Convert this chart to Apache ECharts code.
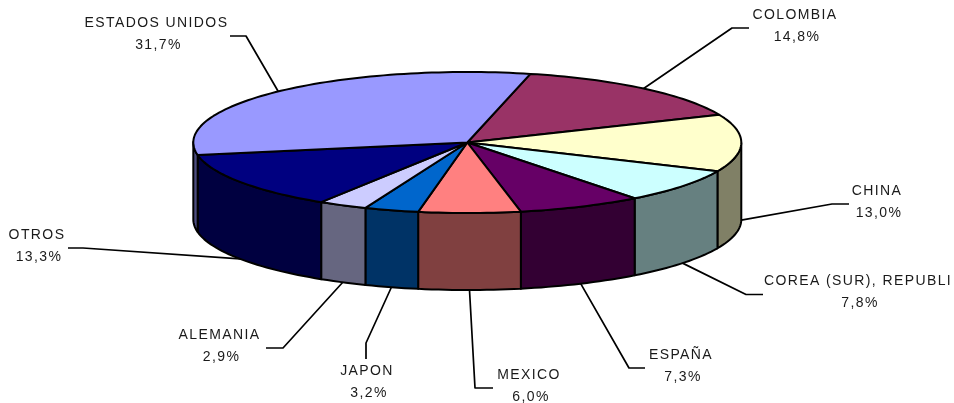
<!DOCTYPE html>
<html>
<head>
<meta charset="utf-8">
<style>html,body{margin:0;padding:0;background:#fff}#chart{width:954px;height:403px}</style>
<script src="https://cdn.jsdelivr.net/npm/echarts@6/dist/echarts.min.js"></script>
</head>
<body>
<div id="chart"></div>
<script>
// Canvas letter spacing used by the reference's tracked labels
const LETTER_SPACING = '1.4px';
const origGetContext = HTMLCanvasElement.prototype.getContext;
HTMLCanvasElement.prototype.getContext = function (type, opts) {
  const ctx = origGetContext.call(this, type, opts);
  if (type === '2d' && ctx && 'letterSpacing' in ctx) ctx.letterSpacing = LETTER_SPACING;
  return ctx;
};

// ---- data ----
const categories = ['COLOMBIA', 'CHINA', 'COREA (SUR), REPUBLI', 'ESPAÑA', 'MEXICO', 'JAPON', 'ALEMANIA', 'OTROS', 'ESTADOS UNIDOS'];
const shares = [14.8, 13.0, 7.8, 7.3, 6.0, 3.2, 2.9, 13.3, 31.7];

// ---- styles ----
const topColors = ['#993366', '#FFFFCC', '#CCFFFF', '#660066', '#FF8080', '#0066CC', '#CCCCFF', '#000080', '#9999FF'];
const wallColors = ['#4D1A33', '#808066', '#668080', '#330033', '#804040', '#003366', '#666680', '#000040', '#4D4D80'];

// ---- layout ----
const CX = 467.3, CY = 142.5, RX = 274, RY = 70.5, DEPTH = 77, START_DEG = 13.3;
const PERSPECTIVE_DEG = 1.0;   // near side of the tilted disc drifts slightly clockwise
const PCT_SHIFT_X = 2;
// label centre [x, first line y], then leader polyline from tail to elbow
const labelCentres = [[795, 15], [877, 191], [858, 281], [681, 355], [529, 375], [367, 371], [219.5, 335], [37, 235], [156.5, 23]];
const leaderTails = [[[749, 28], [732, 28]], [[849, 204], [832, 204]], [[763, 294.5], [746, 294.5]], [[645, 368], [629, 368]], [[493, 388], [475, 388]], [[366, 359], [366, 343]], [[266, 348], [283, 348]], [[68, 248], [83, 248]], [[230, 36], [246, 36]]];
const LINE_HEIGHT = 22;
const FONT = '14px "Liberation Sans", Arial, sans-serif';

const total = shares.reduce((a, b) => a + b, 0);
const warp = deg => deg + PERSPECTIVE_DEG * (1 - Math.cos(deg * Math.PI / 180)) / 2;
const rim = (deg, dy) => {
  const r = warp(deg) * Math.PI / 180;
  return [CX + RX * Math.sin(r), CY - RY * Math.cos(r) + (dy || 0)];
};
const arc = (a, b, dy) => {
  const pts = [], n = Math.max(2, Math.ceil(Math.abs(b - a) / 1.5));
  for (let i = 0; i <= n; i++) pts.push(rim(a + (b - a) * i / n, dy));
  return pts;
};

function renderItem(params, api) {
  const i = params.dataIndex;
  let before = 0;
  for (let k = 0; k < i; k++) before += shares[k];
  const a0 = START_DEG + before / total * 360;
  const a1 = a0 + api.value(0) / total * 360;
  const mid = (a0 + a1) / 2;
  const outline = { stroke: '#000', lineWidth: 2, lineJoin: 'round' };
  const children = [];

  // outer wall: only the part that faces the viewer (90..270 degrees)
  const w0 = Math.max(a0, 90), w1 = Math.min(a1, 270);
  if (w1 > w0) {
    const pts = arc(w0, w1, 0).concat(arc(w1, w0, DEPTH));
    children.push({ type: 'polygon', z2: 1, shape: { points: pts }, style: Object.assign({ fill: wallColors[i] }, outline) });
  }
  // top face
  children.push({
    type: 'polygon', z2: 2,
    shape: { points: [[CX, CY]].concat(arc(a0, a1, 0)) },
    style: Object.assign({ fill: topColors[i] }, outline)
  });
  // leader line: ends on the slice's rim at its middle angle
  const m = ((mid % 360) + 360) % 360;
  const anchor = rim(mid, m >= 85 && m <= 275 ? DEPTH : 0);
  children.push({
    type: 'polyline', z2: 3,
    shape: { points: leaderTails[i].concat([anchor]) },
    style: { stroke: '#000', lineWidth: 1.7, fill: null, lineJoin: 'round' }
  });
  // labels
  const c = labelCentres[i];
  const pct = api.value(0).toFixed(1).replace('.', ',') + '%';
  [categories[i], pct].forEach((t, k) => {
    children.push({
      type: 'text', z2: 4,
      style: { text: t, x: c[0] + (k ? PCT_SHIFT_X : 0), y: c[1] + k * LINE_HEIGHT, align: 'center', verticalAlign: 'middle', font: FONT, fill: '#1a1a1a' }
    });
  });
  return { type: 'group', children };
}

const chart = echarts.init(document.getElementById('chart'), null, { renderer: 'canvas', width: 954, height: 403 });
chart.setOption({
  backgroundColor: '#fff',
  animation: false,
  series: [{
    type: 'custom',
    coordinateSystem: 'none',
    silent: true,
    renderItem,
    data: shares.map((v, i) => ({ name: categories[i], value: [v] }))
  }]
});
</script>
</body>
</html>
